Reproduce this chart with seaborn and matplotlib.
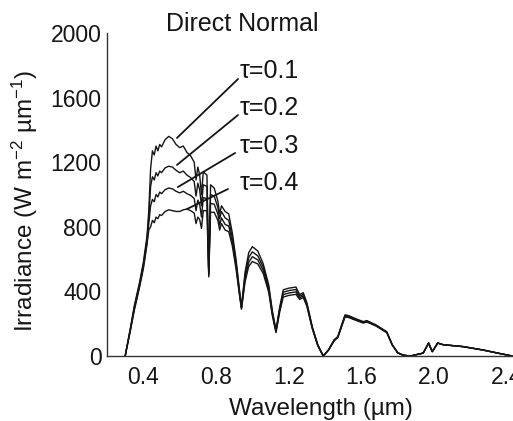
import matplotlib
matplotlib.use("Agg")
import matplotlib.pyplot as plt
import seaborn as sns
import pandas as pd
from matplotlib.ticker import MultipleLocator

# ---------------- data ----------------
wavelength = [0.30, 0.33, 0.35, 0.38, 0.40, 0.42, 0.43, 0.44, 0.45, 0.46, 0.47, 0.48,
              0.49, 0.50, 0.52, 0.54, 0.56, 0.58, 0.60, 0.62, 0.64, 0.66, 0.68, 0.69,
              0.70, 0.71, 0.72, 0.73, 0.75, 0.76, 0.77, 0.79, 0.81, 0.82, 0.83, 0.85,
              0.87, 0.89, 0.91, 0.93, 0.94, 0.96, 0.98, 1.00, 1.03, 1.06, 1.09, 1.11,
              1.13, 1.15, 1.17, 1.20, 1.24, 1.26, 1.28, 1.30, 1.33, 1.36, 1.39, 1.42,
              1.45, 1.47, 1.51, 1.53, 1.56, 1.61, 1.63, 1.68, 1.74, 1.77, 1.80, 1.83,
              1.87, 1.94, 1.97, 1.99, 2.02, 2.05, 2.16, 2.27, 2.35, 2.43]

tau01 = [0, 180, 310, 460, 580, 740, 900, 1160, 1270, 1245, 1300, 1270,
         1310, 1295, 1340, 1360, 1345, 1310, 1290, 1300, 1260, 1240, 1200, 1090,
         1170, 1120, 1000, 1140, 1120, 520, 1060, 1040, 960, 880, 930, 895,
         880, 760, 600, 400, 305, 520, 640, 677, 650, 570, 440, 280,
         160, 300, 410, 420, 427, 380, 392, 330, 180, 70, 0, 40,
         100, 120, 255, 250, 235, 213, 219, 193, 150, 70, 20, 5,
         0, 18, 80, 27, 80, 70, 58, 37, 18, 0]

tau02 = [0, 175, 300, 450, 565, 720, 860, 1050, 1110, 1090, 1135, 1115,
         1145, 1135, 1165, 1175, 1170, 1150, 1135, 1145, 1120, 1105, 1080, 990,
         1070, 1030, 930, 1060, 1050, 510, 1000, 990, 920, 850, 895, 855,
         840, 730, 580, 390, 300, 500, 610, 645, 620, 550, 425, 270,
         155, 290, 395, 405, 412, 370, 382, 322, 176, 68, 0, 39,
         98, 118, 250, 246, 231, 210, 216, 190, 148, 69, 20, 5,
         0, 18, 80, 27, 80, 70, 58, 37, 18, 0]

tau03 = [0, 170, 290, 440, 550, 700, 820, 930, 970, 955, 1000, 985,
         1015, 1005, 1030, 1040, 1035, 1020, 1010, 1020, 1005, 995, 975, 900,
         965, 940, 860, 980, 975, 500, 945, 940, 880, 810, 855, 815,
         805, 705, 560, 380, 295, 480, 580, 615, 595, 530, 410, 260,
         150, 280, 380, 390, 397, 360, 372, 315, 172, 66, 0, 38,
         96, 116, 246, 242, 228, 207, 213, 188, 146, 68, 20, 5,
         0, 18, 80, 27, 80, 70, 58, 37, 18, 0]

tau04 = [0, 165, 280, 430, 540, 690, 780, 800, 840, 825, 860, 850,
         875, 870, 895, 905, 900, 895, 895, 905, 910, 900, 885, 820,
         860, 845, 790, 900, 900, 490, 890, 890, 840, 780, 820, 780,
         770, 680, 540, 370, 290, 460, 555, 585, 570, 510, 395, 250,
         145, 270, 365, 375, 382, 350, 362, 308, 168, 64, 0, 37,
         94, 114, 242, 238, 225, 204, 210, 186, 144, 67, 20, 5,
         0, 18, 80, 27, 80, 70, 58, 37, 18, 0]

tau_labels = ["τ=0.1", "τ=0.2", "τ=0.3", "τ=0.4"]
x_ticks = [0.4, 0.8, 1.2, 1.6, 2.0, 2.4]
y_ticks = [0, 400, 800, 1200, 1600, 2000]

# ---------------- build long table ----------------
series = [tau01, tau02, tau03, tau04]
frames = []
for lab, vals in zip(tau_labels, series):
    frames.append(pd.DataFrame({"wl": wavelength, "irr": vals, "tau": lab}))
df = pd.concat(frames, ignore_index=True)

# ---------------- style ----------------
sns.set_theme(style="white")
plt.rcParams["font.family"] = ["Liberation Sans", "DejaVu Sans"]
plt.rcParams["mathtext.default"] = "regular"
ink = "#151515"

fig = plt.figure(figsize=(5.13, 4.21), dpi=100)
ax = fig.add_axes([107 / 513, 1 - 356 / 421, 406 / 513, 323 / 421])

sns.lineplot(data=df, x="wl", y="irr", hue="tau", units="tau", estimator=None,
             palette=[ink] * 4, legend=False, linewidth=1.0, ax=ax, sort=False)

ax.set_xlim(0.2, 0.2 + 406 / 181.7)
ax.set_ylim(0, 2000)
ax.set_xticks(x_ticks)
ax.set_xticklabels([f"{v:.1f}" for v in x_ticks])
ax.set_yticks(y_ticks)
ax.xaxis.set_minor_locator(MultipleLocator(0.2))
ax.yaxis.set_minor_locator(MultipleLocator(200))
ax.tick_params(axis="both", which="both", direction="in", color=ink, width=0.9)
ax.tick_params(axis="both", which="major", length=3, labelsize=16.5, labelcolor=ink)
ax.tick_params(axis="both", which="minor", length=2.5)
ax.tick_params(axis="x", which="major", pad=7)
ax.tick_params(axis="y", which="major", pad=4)

for s in ["top", "right"]:
    ax.spines[s].set_visible(False)
for s in ["left", "bottom"]:
    ax.spines[s].set_color("#333333")
    ax.spines[s].set_linewidth(1.0)

ax.set_xlabel("Wavelength (µm)", fontsize=17.5, color=ink)
ax.set_ylabel("Irradiance (W m$^{-2}$ µm$^{-1}$)", fontsize=17.5, color=ink)
ax.xaxis.label.set_verticalalignment("center")
ax.xaxis.set_label_coords((321 - 107) / 406, (356 - 409) / 323)
ax.yaxis.label.set_verticalalignment("center")
ax.yaxis.set_label_coords((25 - 107) / 406, (356 - 200.5) / 323)

ax.text((242 - 107) / 406, (356 - 24) / 323, "Direct Normal", transform=ax.transAxes,
        ha="center", va="center", fontsize=18, color=ink)

# leader labels: (text anchor) -> (point on curve)
label_xy = [(0.932, 1765), (0.932, 1536), (0.932, 1300), (0.932, 1071)]
line_start = [(0.921, 1715), (0.921, 1492), (0.905, 1257), (0.866, 1034)]
line_end = [(0.585, 1350), (0.585, 1183), (0.590, 1046), (0.640, 910)]
for lab, txy, s, e in zip(tau_labels, label_xy, line_start, line_end):
    ax.text(txy[0], txy[1], lab, ha="left", va="center", fontsize=18, color=ink)
    ax.annotate("", xy=e, xytext=s,
                arrowprops=dict(arrowstyle="-", color=ink, lw=1.3,
                                shrinkA=0, shrinkB=0))

fig.savefig("out.png", dpi=100, facecolor="white")
